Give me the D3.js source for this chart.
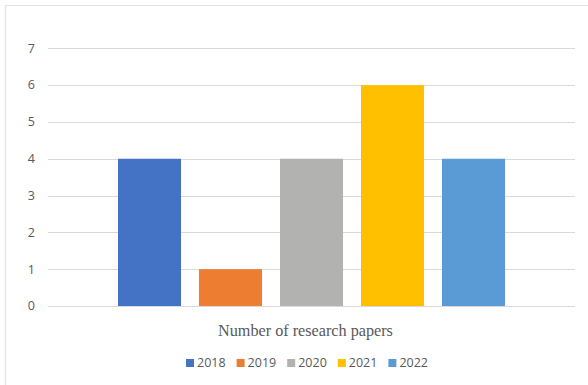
<!DOCTYPE html>
<html lang="en">
<head>
<meta charset="UTF-8">
<title>Number of research papers</title>
<script src="https://d3js.org/d3.v7.min.js"></script>
<style>
html,body{margin:0;padding:0;background:#fff}
svg{display:block}
.tick-label{font-family:"Open Sans",sans-serif;font-size:12.5px;fill:#595959}
.cat-label{font-family:"Liberation Serif","Times New Roman",serif;font-size:16.2px;fill:#595959}
.legend-label{font-family:"Open Sans",sans-serif;font-size:12.5px;fill:#595959}
</style>
</head>
<body>
<div id="chart"></div>
<script>
// data
const category = 'Number of research papers';
const years = ['2018', '2019', '2020', '2021', '2022'];
const papers = [4, 1, 4, 6, 4];
const yTicks = [0, 1, 2, 3, 4, 5, 6, 7];
const colors = ['#4472C4', '#ED7D31', '#B2B3B0', '#FFC000', '#5B9BD5'];

const W = 588, H = 385;
const plot = { left: 48, right: 575, top: 48.3, bottom: 306 };

const svg = d3.select('#chart').append('svg')
  .attr('width', W).attr('height', H);

// outer frame (only left + top edge visible in the crop)
svg.append('path')
  .attr('d', 'M5.5,' + H + 'V5.5H' + W)
  .attr('fill', 'none').attr('stroke', '#e3e3e3').attr('stroke-width', 1.2);

const y = d3.scaleLinear().domain([0, 7]).range([plot.bottom, plot.top]);

// one category, five series
const x0 = d3.scaleBand().domain([category])
  .range([plot.left, plot.right]).paddingInner(0).paddingOuter(0.1506);
const x1 = d3.scaleBand().domain(years)
  .range([x0(category), x0(category) + x0.bandwidth()])
  .paddingInner(0.222).paddingOuter(0.111);

// gridlines
svg.append('g').selectAll('line').data(yTicks).join('line')
  .attr('x1', plot.left).attr('x2', plot.right)
  .attr('y1', d => Math.round(y(d)) + 0.5).attr('y2', d => Math.round(y(d)) + 0.5)
  .attr('stroke', '#d9d9d9').attr('stroke-width', 1);

// y tick labels
svg.append('g').selectAll('text').data(yTicks).join('text')
  .attr('class', 'tick-label')
  .attr('x', 35).attr('y', d => y(d)).attr('dy', '0.35em')
  .attr('text-anchor', 'end')
  .text(d => d);

// bars
svg.append('g').selectAll('rect').data(years).join('rect')
  .attr('x', d => x1(d)).attr('width', x1.bandwidth())
  .attr('y', (d, i) => y(papers[i]))
  .attr('height', (d, i) => y(0) - y(papers[i]))
  .attr('fill', (d, i) => colors[i]);

// category label (sits a little left of the plot centre in the original)
svg.append('text').attr('class', 'cat-label')
  .attr('x', x0(category) + x0.bandwidth() / 2 - 6).attr('y', 336)
  .attr('text-anchor', 'middle')
  .text(category);

// legend
const legend = svg.append('g');
let lx = 0;
years.forEach(function(yr, i) {
  const item = legend.append('g').attr('transform', 'translate(' + lx + ',0)');
  item.append('rect').attr('x', 0).attr('y', -8).attr('width', 8).attr('height', 8)
    .attr('fill', colors[i]);
  const t = item.append('text').attr('class', 'legend-label')
    .attr('x', 11).attr('y', 0).text(yr);
  lx += 11 + t.node().getComputedTextLength() + 11;
});
const legendW = lx - 11;
legend.attr('transform', 'translate(' + (307 - legendW / 2) + ',367)');
</script>
</body>
</html>
